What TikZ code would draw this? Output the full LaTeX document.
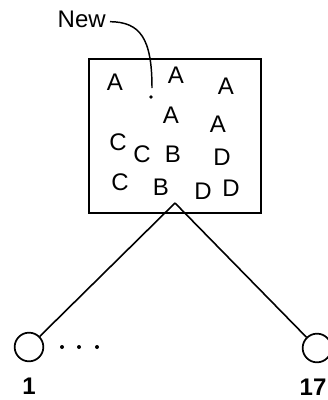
\documentclass[tikz,border=0pt]{standalone}
\usepackage{fontspec}
\setmainfont{Liberation Sans}
\usetikzlibrary{positioning}

\begin{document}
\begin{tikzpicture}[
    x=0.75pt, y=-0.75pt,
    font=\fontsize{18}{21}\selectfont,
    letter/.style={inner sep=0pt},
    leaf/.style={
        draw=black,
        circle,
        line width=1.3pt,
        minimum size=21.5pt,
        inner sep=0pt
    },
    edge/.style={line width=1.2pt, draw=black}
]
\clip (0,0) rectangle (328,400);
\fill[white] (0,0) rectangle (328,400);

% cell with its members
\node[draw=black, line width=1.4pt, minimum width=129pt, minimum height=115.5pt, inner sep=0pt] (cell) at (175,136) {};

\node[letter] (a1) at (115,82) {A};
\node[letter] (a2) at (176,75) {A};
\node[letter] (a3) at (226,86) {A};
\node[letter] (a4) at (171,115) {A};
\node[letter] (a5) at (218,124) {A};
\node[letter] (c1) at (118,142) {C};
\node[letter] (c2) at (142,154) {C};
\node[letter] (b1) at (173,154) {B};
\node[letter] (d1) at (222,157) {D};
\node[letter] (c3) at (120,182) {C};
\node[letter] (b2) at (161,187) {B};
\node[letter] (d2) at (203,191) {D};
\node[letter] (d3) at (231,188) {D};

% new point
\fill (151,97) circle (1.8);
\coordinate (newtip) at (152,88);
\node[letter, anchor=east] (new) at (106,19) {New};
\draw[line width=1.1pt] ([xshift=3pt, yshift=-2pt]new.east) .. controls (140,22) and (152,38) .. (newtip);

% branches
\coordinate (apex) at (175,203);
\node[leaf] (leaf1) at (29,347) {};
\node[leaf] (leaf17) at (317,348) {};
\draw[edge] (apex) -- (leaf1);
\draw[edge] (apex) -- (leaf17);

\foreach \x in {62,79,97}
    \fill (\x,347) circle (2);

\node[letter, below=12pt of leaf1] (lab1) {\textbf{1}};
\node[letter, below=12pt of leaf17, xshift=-3pt] (lab17) {\textbf{17}};
\end{tikzpicture}
\end{document}
